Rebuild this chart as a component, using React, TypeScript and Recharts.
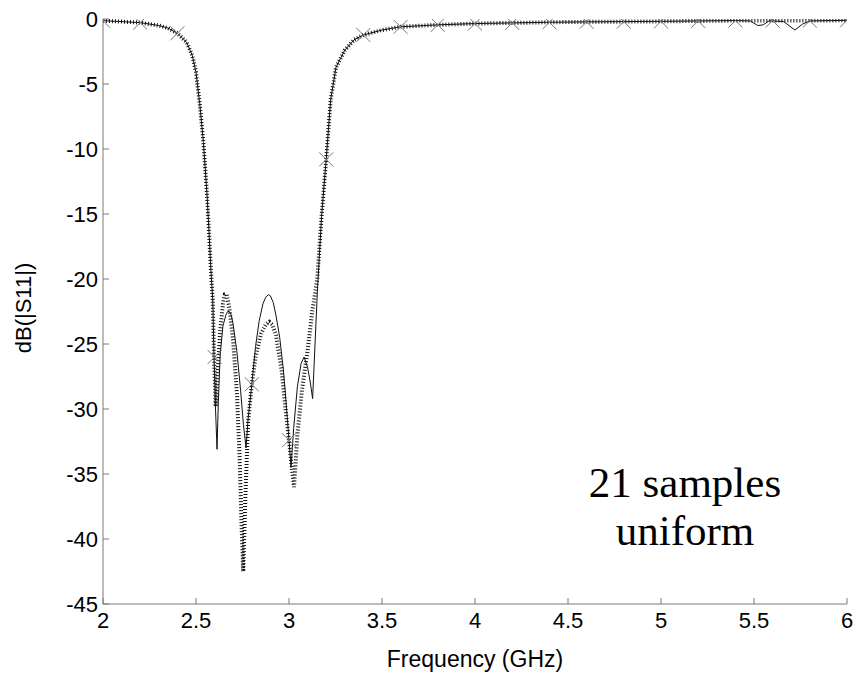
import React from 'react';
import {
  ComposedChart,
  Line,
  Scatter,
  XAxis,
  YAxis,
} from 'recharts';

// fine-grid response, solid trace
const solidFreq = [
  2.0, 2.1, 2.2, 2.3, 2.35, 2.4, 2.45, 2.48, 2.5, 2.52, 2.54, 2.56, 2.57, 2.58, 2.59,
  2.597, 2.605, 2.613, 2.62, 2.63, 2.645, 2.66, 2.67, 2.679, 2.69, 2.7, 2.72, 2.74, 2.755, 2.769,
  2.78, 2.8, 2.82, 2.84, 2.86, 2.875, 2.889, 2.9, 2.915, 2.93, 2.95, 2.97, 2.985, 3.0, 3.011,
  3.025, 3.045, 3.065, 3.081, 3.1, 3.115, 3.127, 3.14, 3.152, 3.175, 3.2, 3.224, 3.253, 3.3,
  3.35, 3.4, 3.5, 3.6, 3.8, 4.0, 4.2, 4.4, 4.6, 4.8, 5.0, 5.2, 5.4, 5.48, 5.52, 5.55, 5.58,
  5.6, 5.66, 5.72, 5.76, 5.8, 6.0,
];
const solidDb = [
  -0.13, -0.2, -0.28, -0.5, -0.7, -1.1, -1.8, -2.8, -4.1, -6.5, -9.5, -13.7, -16.4, -19.3, -21.6,
  -26.0, -30.0, -33.1, -29.5, -25.8, -23.6, -22.8, -22.5, -22.5, -22.8, -23.5, -25.6, -28.6, -31.2, -33.0,
  -30.8, -28.1, -25.2, -23.2, -21.9, -21.4, -21.2, -21.3, -21.8, -22.8, -24.5, -27.0, -29.6, -32.4, -34.5,
  -31.5, -28.3, -26.5, -26.0, -26.8, -28.0, -29.2, -25.0, -21.1, -15.2, -10.8, -6.2, -3.7, -2.4,
  -1.6, -1.23, -0.85, -0.6, -0.45, -0.35, -0.3, -0.25, -0.22, -0.2, -0.18, -0.15, -0.12, -0.15, -0.5, -0.45, -0.15,
  -0.15, -0.2, -0.85, -0.4, -0.15, -0.1,
];

// fine-grid response, dotted trace
const dottedFreq = [
  2.0, 2.1, 2.2, 2.3, 2.35, 2.4, 2.45, 2.48, 2.5, 2.52, 2.54, 2.56, 2.57, 2.58, 2.59,
  2.597, 2.606, 2.615, 2.63, 2.645, 2.655, 2.665, 2.68, 2.7, 2.72, 2.735, 2.745, 2.754, 2.765,
  2.78, 2.8, 2.82, 2.85, 2.875, 2.894, 2.91, 2.93, 2.96, 2.985, 3.0, 3.015, 3.027, 3.045, 3.07,
  3.1, 3.125, 3.152, 3.175, 3.2, 3.224, 3.253, 3.3, 3.35, 3.4, 3.5, 3.6, 3.8, 4.0,
  4.2, 4.4, 4.6, 4.8, 5.0, 5.2, 5.4, 5.6, 5.8, 6.0,
];
const dottedDb = [
  -0.13, -0.2, -0.28, -0.5, -0.7, -1.1, -1.8, -2.8, -4.1, -6.5, -9.5, -13.7, -16.4, -19.3, -21.6,
  -26.0, -29.8, -27.5, -24.0, -21.9, -21.2, -21.2, -22.3, -24.8, -28.8, -34.0, -39.0, -42.5, -37.0,
  -31.0, -28.1, -26.0, -24.2, -23.5, -23.3, -23.5, -24.3, -27.0, -30.5, -32.4, -34.5, -36.0, -32.0, -28.5,
  -25.5, -22.5, -20.0, -15.2, -10.8, -6.2, -3.7, -2.4, -1.6, -1.23, -0.85, -0.6, -0.45, -0.35,
  -0.3, -0.25, -0.22, -0.2, -0.18, -0.15, -0.12, -0.12, -0.12, -0.1,
];

// 21 uniform samples
const sampleFreq = [
  2.0, 2.2, 2.4, 2.6, 2.8, 3.0, 3.2, 3.4, 3.6, 3.8, 4.0,
  4.2, 4.4, 4.6, 4.8, 5.0, 5.2, 5.4, 5.6, 5.8, 6.0,
];
const sampleDb = [
  -0.13, -0.28, -1.1, -26.0, -28.1, -32.4, -10.8, -1.23, -0.6, -0.45, -0.35,
  -0.3, -0.25, -0.22, -0.2, -0.18, -0.15, -0.12, -0.12, -0.12, -0.1,
];

const xTicks = [2, 2.5, 3, 3.5, 4, 4.5, 5, 5.5, 6];
const yTicks = [0, -5, -10, -15, -20, -25, -30, -35, -40, -45];

const solidData = solidFreq.map((f, i) => ({ f, db: solidDb[i] }));
const dottedData = dottedFreq.map((f, i) => ({ f, db: dottedDb[i] }));
const sampleData = sampleFreq.map((f, i) => ({ f, db: sampleDb[i] }));

const AXIS = '#7a7a7a';
const FONT = '"Liberation Sans", Arial, sans-serif';
const SERIF = '"Liberation Serif", "Times New Roman", serif';

const BottomTick = ({ x, y, payload }: any) => (
  <g>
    <line x1={x} y1={y} x2={x} y2={y - 6} stroke={AXIS} />
    <text x={x} y={y + 24} textAnchor="middle" fontSize={22} fontFamily={FONT} fill="#000">
      {payload.value}
    </text>
  </g>
);

const TopTick = ({ x, y }: any) => (
  <line x1={x} y1={y} x2={x} y2={y + 6} stroke={AXIS} />
);

const LeftTick = ({ x, y, payload }: any) => (
  <g>
    <line x1={x} y1={y} x2={x + 6} y2={y} stroke={AXIS} />
    <text x={x - 5} y={y + 8} textAnchor="end" fontSize={22} fontFamily={FONT} fill="#000">
      {payload.value}
    </text>
  </g>
);

const RightTick = ({ x, y }: any) => (
  <line x1={x} y1={y} x2={x - 6} y2={y} stroke={AXIS} />
);

const Cross = ({ cx, cy }: any) => (
  <g stroke="#777" strokeWidth={1}>
    <line x1={cx - 7} y1={cy - 7} x2={cx + 7} y2={cy + 7} />
    <line x1={cx - 7} y1={cy + 7} x2={cx + 7} y2={cy - 7} />
  </g>
);

export default function App() {
  return (
    <div style={{ position: 'absolute', left: 0, top: 0, width: 859, height: 675, background: '#fff' }}>
      <ComposedChart width={859} height={675} margin={{ top: 19, right: 12, bottom: 0, left: 0 }}>
        <XAxis
          xAxisId="b"
          dataKey="f"
          type="number"
          domain={[2, 6]}
          ticks={xTicks}
          height={71}
          tickSize={0}
          tickMargin={0}
          stroke={AXIS}
          tick={<BottomTick />}
          allowDataOverflow
        />
        <XAxis
          xAxisId="t"
          dataKey="f"
          type="number"
          orientation="top"
          domain={[2, 6]}
          ticks={xTicks}
          height={0}
          tickSize={0}
          tickMargin={0}
          tick={<TopTick />}
          stroke={AXIS}
        />
        <YAxis
          yAxisId="l"
          dataKey="db"
          type="number"
          domain={[-45, 0]}
          ticks={yTicks}
          width={103}
          tickSize={0}
          tickMargin={0}
          stroke={AXIS}
          tick={<LeftTick />}
          allowDataOverflow
        />
        <YAxis
          yAxisId="r"
          dataKey="db"
          type="number"
          orientation="right"
          domain={[-45, 0]}
          ticks={yTicks}
          width={0}
          tickSize={0}
          tickMargin={0}
          tick={<RightTick />}
          stroke={AXIS}
        />
        <Scatter
          xAxisId="b"
          yAxisId="l"
          data={sampleData}
          dataKey="db"
          shape={<Cross />}
          isAnimationActive={false}
        />
        <Line
          xAxisId="b"
          yAxisId="l"
          data={dottedData}
          dataKey="db"
          type="linear"
          stroke="#111"
          strokeWidth={4}
          strokeDasharray="1 2"
          dot={false}
          isAnimationActive={false}
        />
        <Line
          xAxisId="b"
          yAxisId="l"
          data={solidData}
          dataKey="db"
          type="linear"
          stroke="#111"
          strokeWidth={1}
          dot={false}
          isAnimationActive={false}
        />
      </ComposedChart>
      <svg width={859} height={675} style={{ position: 'absolute', left: 0, top: 0, pointerEvents: 'none' }}>
        <text x={475} y={667} textAnchor="middle" fontSize={23} fontFamily={FONT} fill="#000">
          Frequency (GHz)
        </text>
        <text
          transform="translate(31 308) rotate(-90)"
          textAnchor="middle"
          fontSize={22}
          fontFamily={FONT}
          fill="#000"
        >
          dB(|S11|)
        </text>
        <text x={685} y={497} textAnchor="middle" fontSize={43} fontFamily={SERIF} fill="#000">
          21 samples
        </text>
        <text x={685} y={545} textAnchor="middle" fontSize={43} fontFamily={SERIF} fill="#000">
          uniform
        </text>
      </svg>
    </div>
  );
}
